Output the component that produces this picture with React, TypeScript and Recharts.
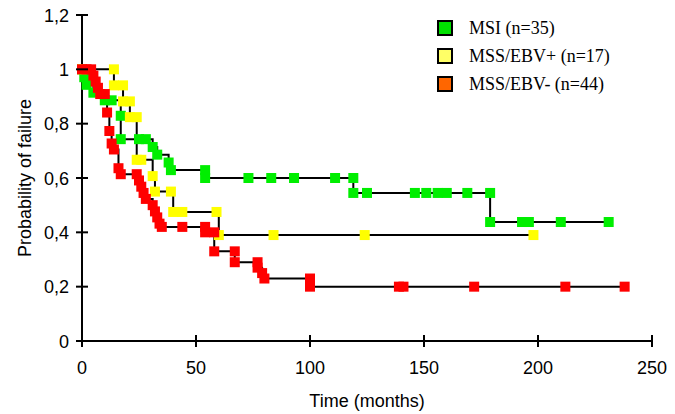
import { LineChart, Line, XAxis, YAxis, Legend, Label } from 'recharts'

// MSI (n=35)
const msiMonths = [0, 1, 2, 5, 10, 13, 17, 17, 25, 28, 31, 33, 38, 39, 54, 54, 73, 83, 93, 111, 119, 119, 125, 146, 151, 156, 160, 169, 179, 179, 193, 196, 210, 231]
const msiProb = [1, 0.971, 0.943, 0.914, 0.886, 0.886, 0.829, 0.743, 0.743, 0.743, 0.714, 0.686, 0.657, 0.629, 0.629, 0.6, 0.6, 0.6, 0.6, 0.6, 0.6, 0.545, 0.545, 0.545, 0.545, 0.545, 0.545, 0.545, 0.545, 0.438, 0.438, 0.438, 0.438, 0.438]

// MSS/EBV+ (n=17)
const ebvPosMonths = [0, 14, 14, 18, 18, 21, 21, 24, 24, 26, 31, 32, 39, 40, 44, 59, 60, 84, 124, 198]
const ebvPosProb = [1, 1, 0.941, 0.941, 0.882, 0.882, 0.824, 0.824, 0.667, 0.667, 0.607, 0.55, 0.55, 0.475, 0.475, 0.475, 0.39, 0.39, 0.39, 0.39]

// MSS/EBV- (n=44)
const ebvNegMonths = [0, 2, 4, 5, 6, 7, 8, 10, 11, 12, 13, 14, 16, 17, 24, 25, 26, 27, 28, 31, 32, 33, 34, 35, 44, 54, 54, 58, 58, 67, 67, 77, 77, 79, 80, 100, 100, 139, 141, 172, 212, 238]
const ebvNegProb = [1, 1, 1, 0.977, 0.955, 0.932, 0.909, 0.909, 0.841, 0.773, 0.727, 0.705, 0.636, 0.614, 0.614, 0.591, 0.568, 0.545, 0.523, 0.5, 0.477, 0.455, 0.432, 0.42, 0.42, 0.42, 0.4, 0.4, 0.33, 0.33, 0.29, 0.29, 0.27, 0.25, 0.23, 0.23, 0.2, 0.2, 0.2, 0.2, 0.2, 0.2]

const xTicks = [0, 50, 100, 150, 200, 250]
const yTicks = [0, 0.2, 0.4, 0.6, 0.8, 1, 1.2]

const seriesNames = ['MSI (n=35)', 'MSS/EBV+ (n=17)', 'MSS/EBV- (n=44)']
const markerColors = ['#00ee00', '#ffff00', '#ff0000']
const legendColors = ['#00e000', '#ffff66', '#ff6600']

const toPoints = (months: number[], prob: number[]) => months.map((t, i) => ({ t, p: prob[i] }))

const series = [
  toPoints(msiMonths, msiProb),
  toPoints(ebvPosMonths, ebvPosProb),
  toPoints(ebvNegMonths, ebvNegProb),
]

const PLOT_LEFT = 82
const PLOT_BOTTOM = 341
const SANS = '"Liberation Sans", Arial, sans-serif'

function YTick(props: any) {
  const { y, payload } = props
  return (
    <g>
      <line x1={PLOT_LEFT - 6} x2={PLOT_LEFT + 6} y1={y} y2={y} stroke="#000" strokeWidth={2} />
      <text x={PLOT_LEFT - 13} y={y + 6.5} textAnchor="end" fontFamily={SANS} fontSize={18} fill="#000">
        {String(payload.value).replace('.', ',')}
      </text>
    </g>
  )
}

function XTick(props: any) {
  const { x, payload } = props
  return (
    <g>
      <line x1={x} x2={x} y1={PLOT_BOTTOM - 6} y2={PLOT_BOTTOM + 6} stroke="#000" strokeWidth={2} />
      <text x={x} y={PLOT_BOTTOM + 33} textAnchor="middle" fontFamily={SANS} fontSize={18} fill="#000">
        {payload.value}
      </text>
    </g>
  )
}

const squareDot = (color: string) => (props: any) => {
  const { cx, cy, index } = props
  return <rect key={index} x={cx - 5} y={cy - 5} width={10} height={10} fill={color} />
}

function LegendBox() {
  return (
    <div style={{ fontFamily: '"Liberation Serif", "Times New Roman", serif', fontSize: 18, color: '#000' }}>
      {seriesNames.map((name, i) => (
        <div key={name} style={{ display: 'flex', alignItems: 'center', height: 28 }}>
          <span
            style={{
              display: 'inline-block',
              width: 12,
              height: 12,
              border: '2px solid #000',
              background: legendColors[i],
              marginRight: 16,
            }}
          />
          <span>{name}</span>
        </div>
      ))}
    </div>
  )
}

export default function App() {
  return (
    <div style={{ position: 'absolute', left: 0, top: 0, background: '#fff' }}>
      <LineChart width={675} height={414} margin={{ top: 15, right: 23, bottom: 7, left: 0 }}>
        <XAxis
          type="number"
          dataKey="t"
          domain={[0, 250]}
          ticks={xTicks}
          height={66}
          axisLine={{ stroke: '#000', strokeWidth: 2 }}
          tickLine={false}
          tick={<XTick />}
          allowDuplicatedCategory
        >
          <Label
            content={() => (
              <text x={367} y={407} textAnchor="middle" fontFamily={SANS} fontSize={18} fill="#000">
                Time (months)
              </text>
            )}
          />
        </XAxis>
        <YAxis
          type="number"
          dataKey="p"
          domain={[0, 1.2]}
          ticks={yTicks}
          width={82}
          axisLine={{ stroke: '#000', strokeWidth: 2 }}
          tickLine={false}
          tick={<YTick />}
        >
          <Label
            content={() => (
              <text
                x={25}
                y={178}
                transform="rotate(-90 25 178)"
                textAnchor="middle"
                dominantBaseline="central"
                fontFamily={SANS}
                fontSize={18}
                fill="#000"
              >
                Probability of failure
              </text>
            )}
          />
        </YAxis>
        <Legend
          layout="vertical"
          align="center"
          verticalAlign="middle"
          wrapperStyle={{ top: 14, left: 437, width: 220 }}
          content={() => <LegendBox />}
        />
        {series.map((data, i) => (
          <Line
            key={seriesNames[i]}
            name={seriesNames[i]}
            data={data}
            dataKey="p"
            type="stepAfter"
            stroke="#000"
            strokeWidth={2}
            dot={squareDot(markerColors[i])}
            activeDot={false}
            isAnimationActive={false}
          />
        ))}
      </LineChart>
    </div>
  )
}
